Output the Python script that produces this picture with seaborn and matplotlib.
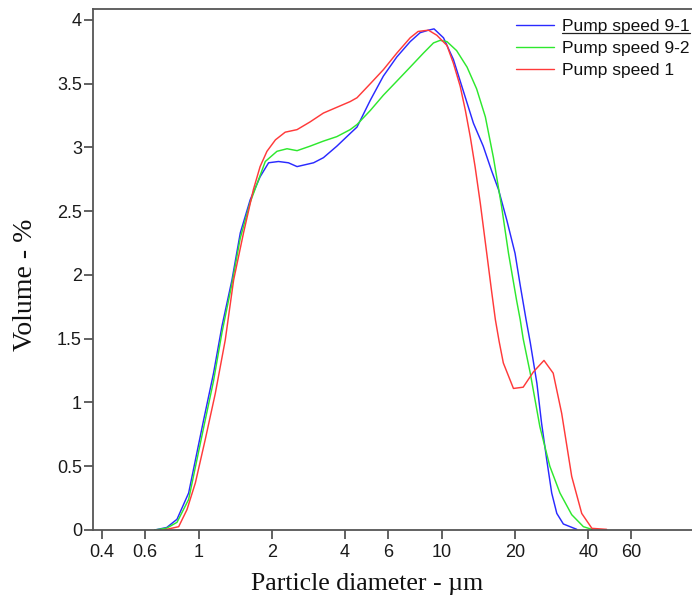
import numpy as np
import pandas as pd
import matplotlib
matplotlib.use("Agg")
import matplotlib.pyplot as plt
from matplotlib.ticker import FixedLocator, FixedFormatter, NullFormatter
from matplotlib.lines import Line2D
import seaborn as sns

# ---------------- data ----------------
series_names = ["Pump speed 9-1", "Pump speed 9-2", "Pump speed 1"]

d_91 = [0.66, 0.74, 0.815, 0.91, 1.048, 1.152, 1.248, 1.371, 1.484, 1.63, 1.79, 1.94,
        2.13, 2.34, 2.54, 2.97, 3.26, 3.70, 4.20, 4.48, 5.08, 5.75, 6.53, 7.41, 8.14,
        8.81, 9.29, 10.16, 11.16, 12.27, 13.49, 14.8, 16.0, 17.1, 18.5, 20.0, 21.0,
        22.2, 23.1, 24.6, 25.7, 27.0, 28.3, 29.7, 31.6, 35.9]
v_91 = [0.0, 0.02, 0.084, 0.29, 0.86, 1.23, 1.60, 1.96, 2.33, 2.59, 2.77, 2.88,
        2.89, 2.88, 2.85, 2.88, 2.92, 3.01, 3.11, 3.16, 3.37, 3.56, 3.71, 3.83, 3.90,
        3.92, 3.93, 3.86, 3.69, 3.44, 3.19, 3.01, 2.82, 2.67, 2.43, 2.17, 1.92,
        1.65, 1.47, 1.15, 0.84, 0.55, 0.29, 0.13, 0.047, 0.005]

d_92 = [0.66, 0.74, 0.815, 0.91, 1.048, 1.152, 1.248, 1.371, 1.484, 1.63, 1.79, 1.88,
        2.10, 2.31, 2.54, 2.87, 3.26, 3.70, 4.20, 4.48, 5.08, 5.75, 6.53, 7.41, 8.40,
        9.24, 9.84, 10.5, 11.5, 12.7, 13.9, 15.1, 16.3, 17.6, 18.8, 20.3, 21.0, 21.6,
        23.1, 25.3, 27.8, 30.6, 34.2, 38.2, 41.4]
v_92 = [0.0, 0.015, 0.06, 0.24, 0.80, 1.17, 1.55, 1.93, 2.29, 2.57, 2.78, 2.89,
        2.97, 2.99, 2.975, 3.01, 3.05, 3.085, 3.14, 3.18, 3.29, 3.41, 3.52, 3.63, 3.74,
        3.82, 3.84, 3.83, 3.76, 3.63, 3.46, 3.24, 2.92, 2.54, 2.17, 1.80, 1.65, 1.50,
        1.23, 0.81, 0.50, 0.29, 0.12, 0.026, 0.005]

d_1 = [0.72, 0.828, 0.896, 0.97, 1.065, 1.171, 1.287, 1.393, 1.53, 1.68, 1.79, 1.91,
       2.07, 2.27, 2.54, 2.87, 3.26, 3.70, 4.20, 4.48, 5.08, 5.75, 6.53, 7.41, 7.99,
       8.81, 9.54, 10.5, 11.16, 11.9, 12.5, 13.1, 13.7, 14.4, 15.3, 16.0, 16.6, 17.2,
       17.9, 19.7, 21.6, 23.8, 26.3, 28.7, 31.1, 34.2, 37.6, 41.4, 47.6]
v_1 = [0.0, 0.026, 0.16, 0.37, 0.71, 1.07, 1.49, 1.96, 2.33, 2.67, 2.85, 2.97,
       3.06, 3.12, 3.14, 3.20, 3.27, 3.315, 3.36, 3.39, 3.50, 3.61, 3.74, 3.86, 3.91,
       3.92, 3.88, 3.80, 3.66, 3.48, 3.29, 3.08, 2.85, 2.56, 2.17, 1.88, 1.65, 1.48,
       1.31, 1.11, 1.12, 1.24, 1.33, 1.23, 0.915, 0.42, 0.13, 0.013, 0.005]

x_major_ticks = [0.4, 0.6, 1, 2, 4, 6, 10, 20, 40, 60]
x_major_labels = ["0.4", "0.6", "1", "2", "4", "6", "10", "20", "40", "60"]
x_minor_ticks = [0.8, 8, 80]
y_ticks = [0, 0.5, 1, 1.5, 2, 2.5, 3, 3.5, 4]
y_labels = ["0", "0.5", "1", "1.5", "2", "2.5", "3", "3.5", "4"]

colors = {"Pump speed 9-1": "#2a2aff", "Pump speed 9-2": "#2ee82e", "Pump speed 1": "#ff3a3a"}

df = pd.concat([
    pd.DataFrame({"d": d_91, "v": v_91, "series": series_names[0]}),
    pd.DataFrame({"d": d_92, "v": v_92, "series": series_names[1]}),
    pd.DataFrame({"d": d_1, "v": v_1, "series": series_names[2]}),
], ignore_index=True)

# ---------------- plot ----------------
sns.set_style("white")
plt.rcParams["font.family"] = ["Liberation Sans", "DejaVu Sans"]

fig = plt.figure(figsize=(6.92, 5.99), dpi=100)
ax = fig.add_axes([93 / 692, 1 - 530 / 599, 1 - 93 / 692, (530 - 9) / 599])

sns.lineplot(data=df, x="d", y="v", hue="series", hue_order=series_names,
             palette=colors, estimator=None, sort=False, linewidth=1.05, ax=ax,
             legend=False)

ax.set_xscale("log")
ax.set_xlim(0.368, 106.8)
ax.set_ylim(0, 4.086)

ax.xaxis.set_major_locator(FixedLocator(x_major_ticks))
ax.xaxis.set_major_formatter(FixedFormatter(x_major_labels))
ax.xaxis.set_minor_locator(FixedLocator(x_minor_ticks))
ax.xaxis.set_minor_formatter(NullFormatter())
ax.yaxis.set_major_locator(FixedLocator(y_ticks))
ax.yaxis.set_major_formatter(FixedFormatter(y_labels))

spine_col = "#555555"
for side in ["left", "top", "bottom"]:
    ax.spines[side].set_visible(True)
    ax.spines[side].set_color(spine_col)
    ax.spines[side].set_linewidth(1.3)
ax.spines["right"].set_visible(False)

ax.tick_params(axis="both", which="major", direction="out", length=6.5, width=1.3,
               color=spine_col, labelsize=13, labelcolor="#1a1a1a")
ax.tick_params(axis="y", which="major", pad=1.5)
ax.tick_params(axis="x", which="major", pad=3.5)
ax.tick_params(axis="x", which="minor", direction="out", length=3.5, width=1.3,
               color=spine_col)
ax.tick_params(left=True, bottom=True, top=False, right=False)
ax.grid(False)

serif = ["Liberation Serif", "DejaVu Serif"]
ax.set_xlabel("Particle diameter - µm", fontsize=18.5, family=serif, color="#111111")
ax.set_ylabel("Volume - %", fontsize=20, family=serif, color="#111111")
ax.xaxis.set_label_coords(0.458, -0.083)
ax.yaxis.set_label_coords(-0.092, 0.47)

handles = [Line2D([0], [0], color=colors[n], lw=1.0) for n in series_names]
leg = ax.legend(handles, series_names, loc="upper right",
                bbox_to_anchor=(1.005, 1.0 - 5 / 521),
                frameon=False, fontsize=12.5, handlelength=2.2, handletextpad=0.45,
                labelspacing=0.38, borderaxespad=0.1, borderpad=0.2)
for t in leg.get_texts():
    t.set_color("#111111")

# underline beneath the first legend entry
fig.canvas.draw()
bb = leg.get_texts()[0].get_window_extent().transformed(fig.transFigure.inverted())
fig.add_artist(Line2D([bb.x0, bb.x1], [bb.y0 + 0.002, bb.y0 + 0.002],
                      transform=fig.transFigure, color="#222222", lw=0.9))

fig.savefig("out.png", dpi=100)
